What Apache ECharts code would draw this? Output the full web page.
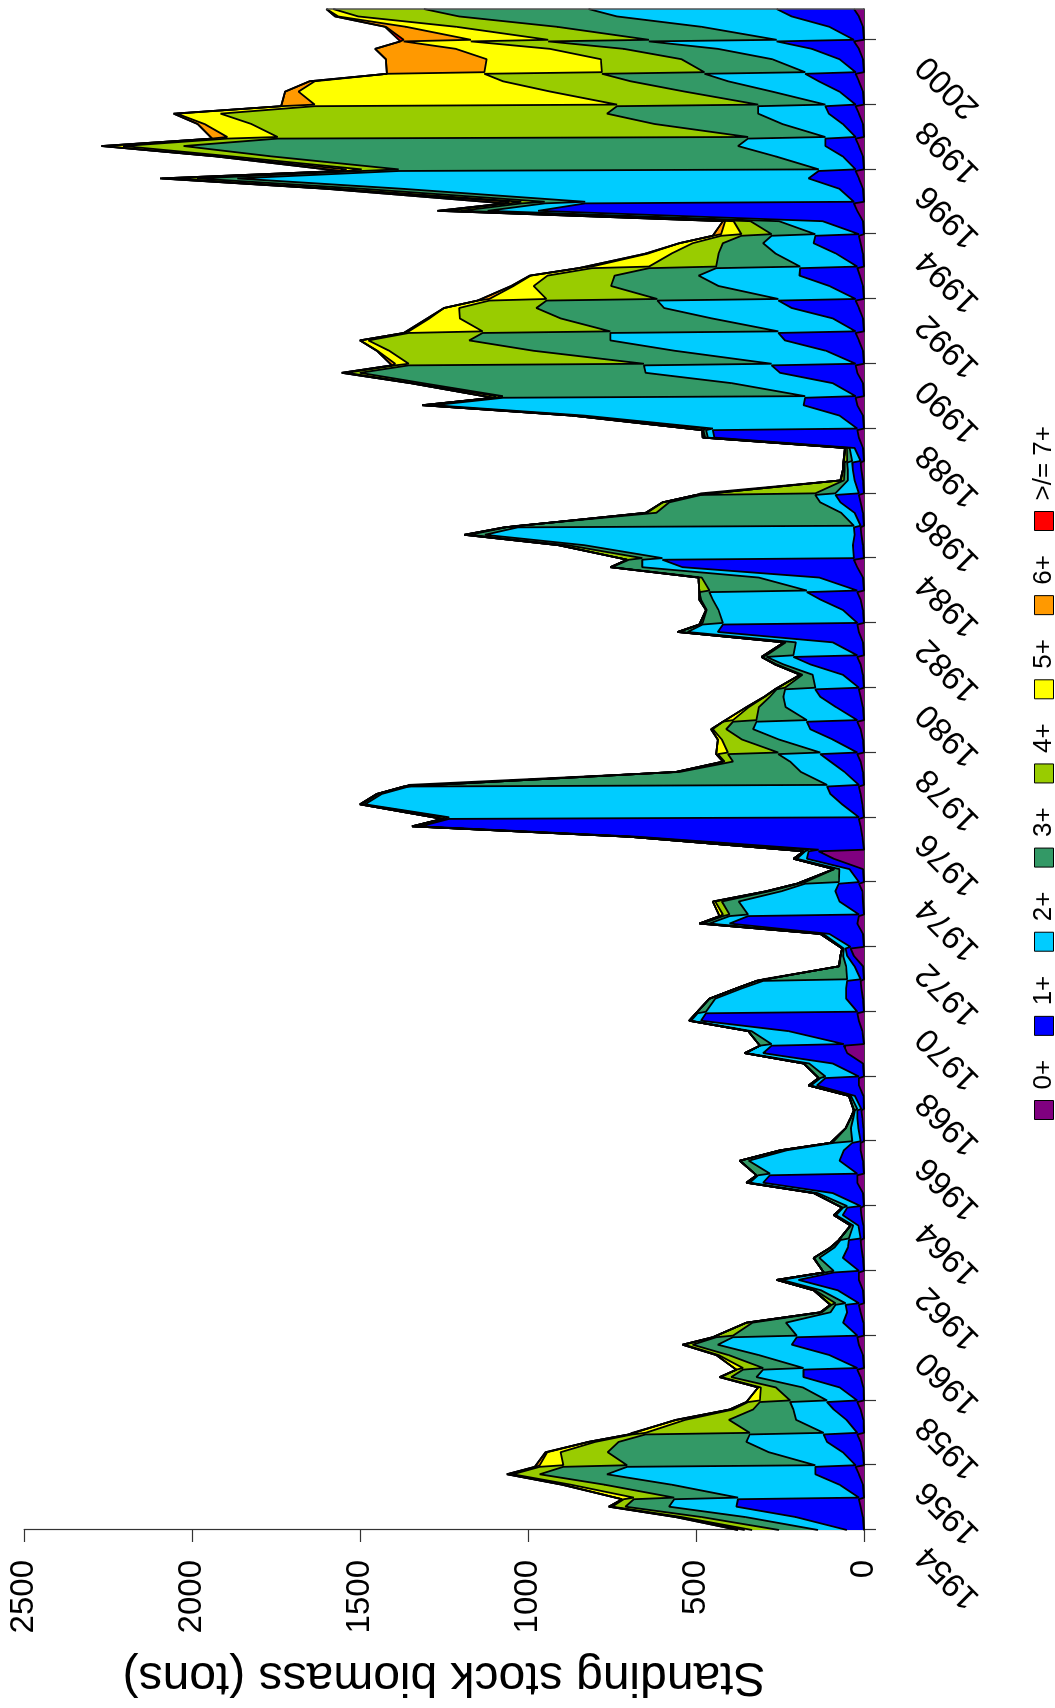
<!DOCTYPE html>
<html>
<head>
<meta charset="utf-8">
<script src="https://cdn.jsdelivr.net/npm/echarts@6/dist/echarts.min.js"></script>
<style>
  html, body { margin: 0; padding: 0; background: #fff; width: 1055px; height: 1708px; overflow: hidden; }
  /* the chart is laid out landscape and turned a quarter turn counter-clockwise */
  #chart { position: absolute; left: 0; top: 0; width: 1708px; height: 1055px;
           transform-origin: 0 0; transform: translateY(1708px) rotate(-90deg); }
</style>
</head>
<body>
<div id="chart"></div>
<script>
// Four samples per year: start, spring, autumn peak, end of year
const years = [1954,1955,1956,1957,1958,1959,1960,1961,1962,1963,1964,1965,1966,1967,1968,1969,1970,
  1971,1972,1973,1974,1975,1976,1977,1978,1979,1980,1981,1982,1983,1984,1985,1986,1987,1988,1989,1990,
  1991,1992,1993,1994,1995,1996,1997,1998,1999,2000];
const yearPhases = [0, 0.4, 0.72, 0.95];

const yearTicks = [1954,1956,1958,1960,1962,1964,1966,1968,1970,1972,1974,1976,1978,1980,1982,1984,
  1986,1988,1990,1992,1994,1996,1998,2000];

const ageClasses = ['0+', '1+', '2+', '3+', '4+', '5+', '6+', '>/= 7+'];
const ageColors = ['#800080', '#0000ff', '#00ccff', '#339966', '#99cc00', '#ffff00', '#ff9900', '#ff0000'];

// Biomass (tons) of each age class; four values per year, five years per line
const age0 = [
  0,3,10,15, 0,3,15,25, 0,3,10,20, 0,2,10,20, 0,2,10,20,
  0,3,15,20, 0,2,10,15, 0,3,15,15, 0,3,8,10, 0,2,8,10,
  0,3,20,20, 0,3,10,10, 0,2,5,8, 0,2,15,15, 0,3,50,60,
  0,5,15,20, 0,3,8,10, 0,3,30,40, 0,3,20,15, 0,3,5,15,
  0,3,90,135, 0,5,10,15, 0,5,10,15, 0,3,10,20, 0,3,10,20,
  0,3,10,15, 0,3,10,20, 0,3,15,20, 0,3,10,20, 0,3,20,30,
  0,3,8,10, 0,3,10,15, 0,3,8,10, 0,3,15,20, 0,3,20,25,
  0,3,20,25, 0,3,15,25, 0,3,15,25, 0,3,12,20, 0,3,10,15,
  0,3,20,30, 0,3,15,25, 0,3,15,25, 0,3,15,25, 0,3,15,25,
  0,3,15,30, 0,3,15,30];
const age1 = [
  51,200,370,360, 15,70,130,120, 25,60,100,100, 20,50,80,90, 20,70,170,160,
  20,100,200,180, 20,60,40,40, 15,75,180,75, 15,60,40,35, 10,15,55,40,
  10,90,280,260, 20,70,50,25, 10,15,15,12, 8,25,125,100, 15,90,250,215,
  60,220,470,450, 20,50,45,40, 10,25,20,15, 40,100,380,330, 15,70,80,60,
  15,40,80,30, 135,670,1310,1220, 15,60,90,95, 15,55,90,110, 20,90,150,150,
  20,80,120,130, 15,60,150,190, 20,90,420,400, 20,60,120,150, 20,130,520,570,
  30,30,20,20, 10,25,60,70, 15,25,25,25, 10,25,430,430, 20,70,160,150,
  25,90,230,250, 25,110,220,230, 25,90,200,230, 25,100,180,170, 20,80,140,130,
  15,120,950,800, 30,70,150,110, 25,60,100,90, 25,60,90,90, 25,70,120,150,
  25,70,140,230, 30,100,200,230];
const age2 = [
  86,150,200,190, 360,500,620,560, 120,220,240,220, 100,150,120,110, 90,110,140,120,
  160,210,220,190, 180,170,50,30, 40,50,50,25, 75,70,40,25, 35,15,20,12,
  40,45,40,35, 260,270,170,55, 25,22,12,7, 12,12,18,15, 100,70,50,35,
  215,110,30,25, 450,390,310,250, 40,25,12,5, 15,18,60,55, 330,300,160,100,
  60,30,30,10, 30,15,15,12, 1220,1420,1335,1245, 95,130,120,125, 110,160,170,150,
  150,150,110,90, 130,90,80,80, 190,110,90,60, 400,370,320,290, 150,180,120,60,
  570,800,1100,1000, 20,40,60,60, 70,20,15,15, 25,15,20,20, 430,760,1100,900,
  150,300,400,380, 250,450,520,500, 230,360,380,360, 230,330,300,250, 170,180,150,130,
  130,130,150,120, 800,1300,1700,1250, 110,200,260,230, 90,180,210,200, 90,200,270,300,
  150,200,280,380, 230,380,520,560];
const age3 = [
  116,130,130,120, 190,200,200,190, 560,480,380,310, 220,200,120,90, 110,80,75,60,
  120,90,75,50, 190,100,25,12, 30,18,15,5, 25,15,10,5, 25,7,6,3,
  12,10,8,5, 35,25,18,10, 55,15,7,3, 7,5,6,5, 15,15,5,0,
  35,10,5,5, 25,17,17,20, 250,20,8,5, 5,6,20,20, 55,50,35,20,
  100,15,10,5, 10,8,8,6, 12,10,10,10, 1245,360,170,150, 125,110,80,70,
  150,80,40,25, 90,30,20,15, 80,30,25,10, 60,35,35,30, 290,170,90,40,
  60,50,45,35, 1000,550,450,340, 60,12,10,8, 15,8,8,8, 20,25,25,20,
  900,920,850,700, 380,420,420,380, 500,450,380,330, 360,320,250,200, 250,170,120,90,
  130,85,80,70, 120,120,120,110, 1250,1500,1650,1400, 230,380,450,420, 200,260,290,305,
  300,270,280,300, 380,430,470,490];
const age4 = [
  80,60,40,30, 120,100,80,70, 190,140,70,40, 310,130,60,35, 90,45,30,20,
  60,30,25,10, 50,18,5,3, 12,4,0,0, 5,2,2,0, 5,1,1,0,
  3,2,2,0, 5,2,2,0, 10,1,1,0, 3,1,1,0, 5,2,0,0,
  0,0,0,0, 5,0,0,0, 20,2,0,0, 5,3,10,10, 20,20,8,5,
  20,2,0,0, 5,2,2,2, 6,5,5,5, 10,10,25,30, 150,60,40,30,
  70,30,15,5, 25,7,5,0, 15,5,5,0, 10,2,5,0, 30,10,5,5,
  40,25,15,5, 35,27,20,15, 340,8,5,3, 8,4,5,4, 8,8,8,8,
  20,25,40,40, 700,430,300,220, 380,300,230,170, 330,230,200,170, 200,140,90,60,
  90,50,45,35, 70,70,70,45, 110,120,180,150, 1400,1200,1150,900, 420,400,380,350,
  305,240,220,230, 300,300,300,270];
const age5 = [
  22,12,8,5, 30,22,15,12, 70,40,20,10, 40,25,10,5, 35,8,5,0,
  20,7,5,0, 10,0,0,0, 3,0,0,0, 0,0,0,0, 0,0,0,0,
  0,0,0,0, 0,0,0,0, 0,0,0,0, 0,0,0,0, 0,0,0,0,
  0,0,0,0, 0,0,0,0, 0,0,0,0, 0,0,0,0, 10,7,2,0,
  5,0,0,0, 0,0,0,0, 2,0,0,0, 5,2,5,5, 30,12,5,0,
  30,7,2,0, 5,0,0,0, 0,0,0,0, 0,0,0,0, 0,0,0,0,
  5,2,2,0, 5,5,0,0, 15,2,0,0, 3,2,2,0, 4,4,2,2,
  8,10,12,10, 40,35,25,15, 220,90,45,35, 170,60,50,40, 170,70,40,25,
  60,25,20,15, 35,30,35,20, 45,40,60,45, 150,140,130,100, 900,750,560,290,
  350,340,280,200, 230,150,60,20];
const age6 = [
  20,6,2,0, 5,5,3,3, 12,5,0,0, 10,3,0,0, 5,0,0,0,
  0,0,0,0, 0,0,0,0, 0,0,0,0, 0,0,0,0, 0,0,0,0,
  0,0,0,0, 0,0,0,0, 0,0,0,0, 0,0,0,0, 0,0,0,0,
  0,0,0,0, 0,0,0,0, 0,0,0,0, 0,0,0,0, 0,0,0,0,
  0,0,0,0, 0,0,0,0, 0,0,0,0, 0,0,0,0, 5,0,0,0,
  0,0,0,0, 0,0,0,0, 0,0,0,0, 0,0,0,0, 0,0,0,0,
  0,0,0,0, 0,0,0,0, 0,0,0,0, 0,0,0,0, 0,0,0,0,
  2,2,3,0, 10,2,0,0, 15,7,0,0, 35,7,3,0, 40,7,0,0,
  25,7,5,0, 15,7,5,0, 20,7,5,0, 45,20,10,0, 100,40,15,0,
  290,300,240,10, 200,60,9,0];
const age7 = [
  0,0,0,0, 0,0,0,0, 3,0,0,0, 0,0,0,0, 0,0,0,0,
  0,0,0,0, 0,0,0,0, 0,0,0,0, 0,0,0,0, 0,0,0,0,
  0,0,0,0, 0,0,0,0, 0,0,0,0, 0,0,0,0, 0,0,0,0,
  0,0,0,0, 0,0,0,0, 0,0,0,0, 0,0,0,0, 0,0,0,0,
  0,0,0,0, 0,0,0,0, 0,0,0,0, 0,0,0,0, 0,0,0,0,
  0,0,0,0, 0,0,0,0, 0,0,0,0, 0,0,0,0, 0,0,0,0,
  0,0,0,0, 0,0,0,0, 0,0,0,0, 0,0,0,0, 0,0,0,0,
  0,0,0,0, 0,0,0,0, 0,0,0,0, 0,0,0,0, 0,0,0,0,
  0,0,0,0, 0,0,0,0, 0,0,0,0, 0,0,0,0, 0,0,0,0,
  0,0,0,0, 10,3,0,0];

const classValues = [age0, age1, age2, age3, age4, age5, age6, age7];

// sample times
const times = [];
years.forEach(y => yearPhases.forEach(p => times.push(y + p)));
const tEnd = times[times.length - 1];

// each band is drawn as the running total up to its age class, filled down to zero,
// oldest (largest total) at the back
const cumulative = classValues.map(() => new Array(times.length).fill(0));
for (let i = 0; i < times.length; i++) {
  let sum = 0;
  for (let k = 0; k < classValues.length; k++) {
    sum += classValues[k][i];
    cumulative[k][i] = sum;
  }
}
const lastTotal = cumulative[cumulative.length - 1][times.length - 1];

const FONT = 'Liberation Sans, Arial, Helvetica, sans-serif';

const series = [];
for (let k = ageClasses.length - 1; k >= 0; k--) {
  const s = {
    name: ageClasses[k],
    type: 'line',
    data: times.map((t, i) => [t, cumulative[k][i]]),
    showSymbol: false,
    symbol: 'none',
    silent: true,
    animation: false,
    color: ageColors[k],
    itemStyle: { color: ageColors[k] },
    lineStyle: { color: '#000', width: 1.8 },
    areaStyle: { color: ageColors[k], opacity: 1 }
  };
  if (k === ageClasses.length - 1) {
    // closing edge of the stack at the last sample
    s.markLine = {
      silent: true, symbol: 'none', label: { show: false }, animation: false,
      lineStyle: { color: '#555', width: 1.5, type: 'solid' },
      data: [[{ coord: [tEnd, 0] }, { coord: [tEnd, lastTotal] }]]
    };
  }
  series.push(s);
}

const chart = echarts.init(document.getElementById('chart'), null, { renderer: 'canvas' });
chart.setOption({
  backgroundColor: '#fff',
  animation: false,
  grid: { left: 178, right: 9, top: 24, bottom: 191, containLabel: false },
  xAxis: {
    type: 'value',
    min: 1954,
    max: tEnd,
    interval: 2,
    splitLine: { show: false },
    axisLine: { show: true, onZero: false, lineStyle: { color: '#000', width: 1.6 } },
    axisTick: { show: true, length: 12, customValues: yearTicks, lineStyle: { color: '#333', width: 1.2 } },
    axisLabel: {
      customValues: yearTicks,
      rotate: 45,
      margin: 37,
      padding: [0, 30, 0, 0],
      fontSize: 33,
      fontFamily: FONT,
      color: '#000',
      formatter: v => String(v)
    }
  },
  yAxis: {
    type: 'value',
    min: 0,
    max: 2500,
    interval: 500,
    name: 'Standing stock biomass (tons)',
    nameLocation: 'middle',
    nameRotate: 90,
    nameGap: 122,
    nameTextStyle: { fontSize: 48, fontFamily: FONT, color: '#000' },
    splitLine: { show: false },
    axisLine: { show: true, lineStyle: { color: '#333', width: 1.2 } },
    axisTick: { show: true, length: 12, lineStyle: { color: '#333', width: 1.2 } },
    axisLabel: { margin: 30, fontSize: 33, fontFamily: FONT, color: '#000', formatter: v => String(v) }
  },
  legend: {
    data: ageClasses.map((n, k) => ({ name: n, icon: 'rect', itemStyle: { color: ageColors[k] } })),
    orient: 'horizontal',
    left: 583,
    top: 1026,
    itemWidth: 19,
    itemHeight: 19,
    itemGap: 24,
    selectedMode: false,
    itemStyle: { borderColor: '#000', borderWidth: 1 },
    textStyle: { fontSize: 26, fontFamily: FONT, color: '#000', padding: [0, 0, 0, 6] }
  },
  series: series
});
</script>
</body>
</html>
